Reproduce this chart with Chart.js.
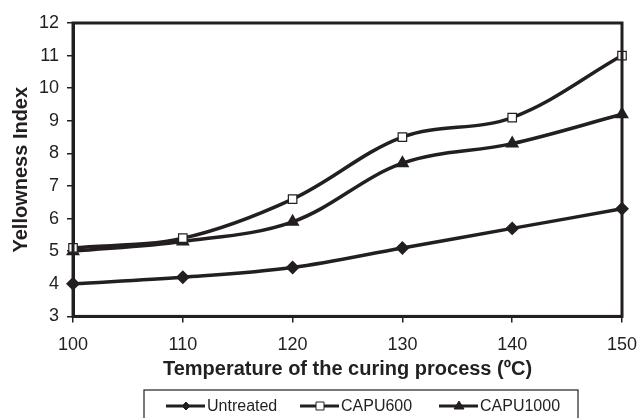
<!DOCTYPE html>
<html>
<head>
<meta charset="utf-8">
<script src="https://cdn.jsdelivr.net/npm/chart.js@4.4.1/dist/chart.umd.min.js"></script>
<style>
  html, body { margin: 0; padding: 0; background: #fff; }
  #wrap { width: 639px; height: 418px; position: relative; }
</style>
</head>
<body>
<div id="wrap"><canvas id="lineChart" width="639" height="418"></canvas></div>
<script>
// data
const temperatures = [100, 110, 120, 130, 140, 150];
const untreated = [4.0, 4.2, 4.5, 5.1, 5.7, 6.3];
const capu600 = [5.1, 5.4, 6.6, 8.5, 9.1, 11.0];
const capu1000 = [5.0, 5.3, 5.9, 7.7, 8.3, 9.2];
const seriesNames = ['Untreated', 'CAPU600', 'CAPU1000'];
const xTicks = [100, 110, 120, 130, 140, 150];
const yTicks = [3, 4, 5, 6, 7, 8, 9, 10, 11, 12];

const ink = '#231f20';
const font = "'Liberation Sans', Arial, sans-serif";

function toPoints(vals) {
  return vals.map((v, i) => ({ x: temperatures[i], y: v }));
}

// frame around the plot (top + right sides too)
const framePlugin = {
  id: 'frame',
  afterDatasetsDraw(chart) {
    const a = chart.chartArea;
    const c = chart.ctx;
    c.save();
    c.strokeStyle = ink;
    c.lineWidth = 3;
    c.strokeRect(a.left, a.top, a.right - a.left, a.bottom - a.top);
    c.restore();
  }
};

// legend box with line + marker samples
const legendPlugin = {
  id: 'boxLegend',
  afterDraw(chart) {
    const c = chart.ctx;
    c.save();
    c.strokeStyle = ink;
    c.lineWidth = 1.2;
    c.strokeRect(144, 390, 434, 32);
    const y = 406;
    const starts = [166, 300, 439];
    chart.data.datasets.forEach((ds, i) => {
      const x0 = starts[i];
      c.strokeStyle = ink;
      c.lineWidth = 3;
      c.beginPath();
      c.moveTo(x0, y);
      c.lineTo(x0 + 39, y);
      c.stroke();
      c.fillStyle = ds.pointBackgroundColor;
      c.strokeStyle = ink;
      c.lineWidth = 1;
      const cx = x0 + 20;
      c.beginPath();
      if (ds.pointStyle === 'rectRot') {
        c.moveTo(cx, y - 4); c.lineTo(cx + 4, y); c.lineTo(cx, y + 4); c.lineTo(cx - 4, y);
      } else if (ds.pointStyle === 'rect') {
        c.rect(cx - 4, y - 4, 8, 8);
      } else {
        c.moveTo(cx, y - 5); c.lineTo(cx + 5, y + 3); c.lineTo(cx - 5, y + 3);
      }
      c.closePath();
      c.fill();
      c.stroke();
      c.fillStyle = ink;
      c.font = '16px ' + font;
      c.textBaseline = 'middle';
      c.fillText(ds.label, x0 + 41, y + 1);
    });
    c.restore();
  }
};

const ctx = document.getElementById('lineChart').getContext('2d');
const lineChart = new Chart(ctx, {
  type: 'line',
  data: {
    datasets: [
      {
        label: seriesNames[0],
        data: toPoints(untreated),
        borderColor: ink,
        borderWidth: 3.5,
        pointStyle: 'rectRot',
        pointRadius: 4.5,
        pointBackgroundColor: ink,
        pointBorderColor: ink,
        tension: 0.35
      },
      {
        label: seriesNames[1],
        data: toPoints(capu600),
        borderColor: ink,
        borderWidth: 3.5,
        pointStyle: 'rect',
        pointRadius: 6,
        pointBackgroundColor: '#ffffff',
        pointBorderColor: ink,
        pointBorderWidth: 1.2,
        tension: 0.35
      },
      {
        label: seriesNames[2],
        data: toPoints(capu1000),
        borderColor: ink,
        borderWidth: 3.5,
        pointStyle: 'triangle',
        pointRadius: 4.5,
        pointBackgroundColor: ink,
        pointBorderColor: ink,
        tension: 0.35
      }
    ]
  },
  options: {
    responsive: false,
    animation: false,
    clip: false,
    layout: { padding: { top: 23, right: 17, bottom: 37, left: 9 } },
    plugins: {
      legend: { display: false },
      tooltip: { enabled: false }
    },
    scales: {
      x: {
        type: 'linear',
        min: 100,
        max: 150,
        afterBuildTicks: (axis) => { axis.ticks = xTicks.map(v => ({ value: v })); },
        afterFit: (axis) => { axis.paddingLeft = 0; axis.paddingRight = 0; },
        grid: { drawOnChartArea: false, color: ink, tickLength: 6, lineWidth: 1.5 },
        border: { color: ink, width: 3 },
        ticks: { color: ink, font: { family: font, size: 18 }, padding: 12, maxRotation: 0 },
        title: {
          display: true,
          text: 'Temperature of the curing process (ºC)',
          color: ink,
          font: { family: font, size: 20, weight: 'bold' },
          padding: { top: -11, bottom: 0 }
        }
      },
      y: {
        min: 3,
        max: 12,
        afterBuildTicks: (axis) => { axis.ticks = yTicks.map(v => ({ value: v })); },
        grid: { drawOnChartArea: false, color: ink, tickLength: 6, lineWidth: 1.5 },
        border: { color: ink, width: 3 },
        ticks: { color: ink, font: { family: font, size: 18 }, padding: 8 },
        title: {
          display: true,
          text: 'Yellowness Index',
          color: ink,
          font: { family: font, size: 20, weight: 'bold' },
          padding: { top: 0, bottom: -2 }
        }
      }
    }
  },
  plugins: [framePlugin, legendPlugin]
});
</script>
</body>
</html>
